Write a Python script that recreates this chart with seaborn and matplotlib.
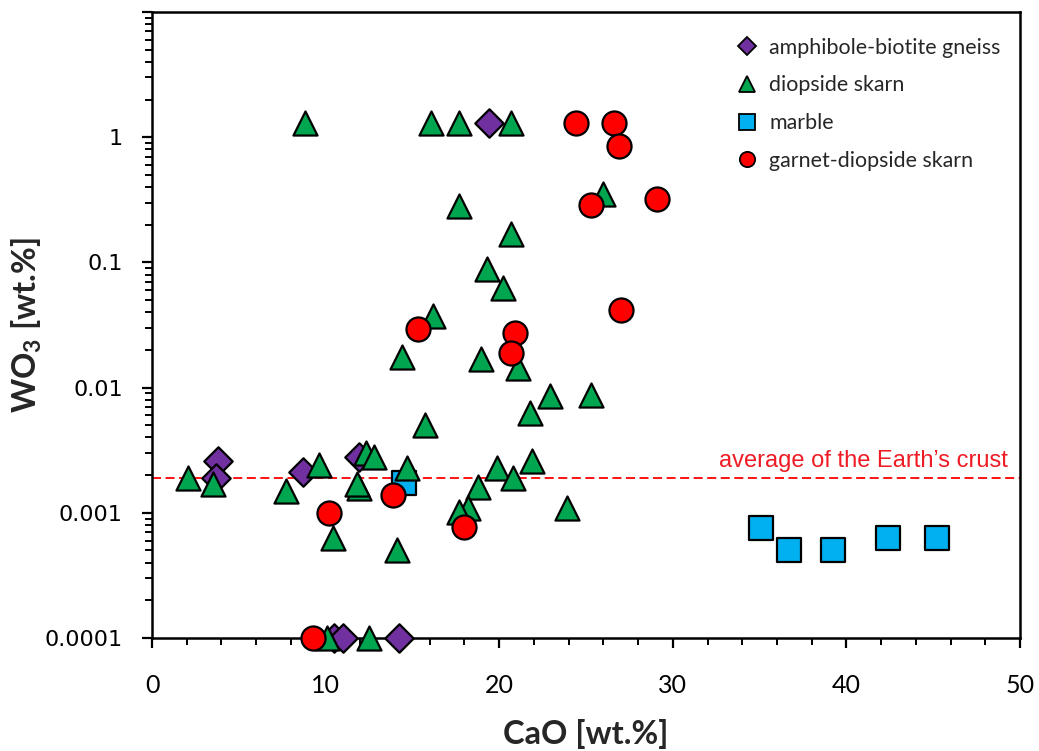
import math

import matplotlib
matplotlib.use("Agg")
import matplotlib.pyplot as plt
import matplotlib.ticker as mticker
import pandas as pd
import seaborn as sns

# CaO / WO3 pairs per rock type (wt.%)
gneiss_cao = [3.8, 3.7, 8.7, 11.9, 19.4, 10.5, 11.0, 14.2]
gneiss_wo3 = [0.0026, 0.0019, 0.0021, 0.0028, 1.29, 0.0001, 0.0001, 0.0001]

diopside_cao = [8.8, 16.1, 17.7, 20.7, 26.0, 17.7, 20.7, 19.3, 20.2, 16.2,
                14.4, 18.95, 21.1, 22.9, 25.3, 21.8, 15.7, 19.9, 20.8, 21.9,
                18.8, 18.2, 17.7, 23.9, 14.7, 2.1, 3.5, 7.7, 9.6, 12.3,
                12.8, 11.9, 11.8, 10.4, 14.1, 10.1, 12.5]
diopside_wo3 = [1.29, 1.29, 1.29, 1.29, 0.35, 0.28, 0.169, 0.089, 0.063, 0.0375,
                0.0177, 0.017, 0.0144, 0.0086, 0.0088, 0.0063, 0.005, 0.00226, 0.00188, 0.0026,
                0.0016, 0.0011, 0.00101, 0.0011, 0.00226, 0.00188, 0.00169, 0.0015, 0.0024, 0.003,
                0.0028, 0.00157, 0.0017, 0.00063, 0.0005, 0.0001, 0.0001]

marble_cao = [14.5, 35.1, 36.7, 39.2, 42.4, 45.2]
marble_wo3 = [0.00172, 0.00075, 0.0005, 0.0005, 0.00063, 0.00063]

garnet_cao = [24.4, 26.6, 26.9, 25.3, 29.1, 15.3, 20.9, 20.7, 27.0, 10.2,
              13.9, 9.3, 18.0]
garnet_wo3 = [1.29, 1.29, 0.85, 0.29, 0.32, 0.0295, 0.0274, 0.019, 0.042, 0.001,
              0.00138, 0.0001, 0.00077]

crust_avg = 0.0019

groups = ["amphibole-biotite gneiss", "diopside skarn", "marble", "garnet-diopside skarn"]
data = {
    "amphibole-biotite gneiss": (gneiss_cao, gneiss_wo3),
    "diopside skarn": (diopside_cao, diopside_wo3),
    "marble": (marble_cao, marble_wo3),
    "garnet-diopside skarn": (garnet_cao, garnet_wo3),
}
colors = {"amphibole-biotite gneiss": "#7030A0", "diopside skarn": "#00A550",
          "marble": "#00B0F0", "garnet-diopside skarn": "#FF0000"}
markers = {"amphibole-biotite gneiss": "D", "diopside skarn": "^",
           "marble": "s", "garnet-diopside skarn": "o"}
sizes = {"amphibole-biotite gneiss": 210, "diopside skarn": 300,
         "marble": 280, "garnet-diopside skarn": 300}
draw_order = ["marble", "amphibole-biotite gneiss", "diopside skarn", "garnet-diopside skarn"]

sns.set_theme(style="ticks")
plt.rcParams["font.family"] = ["Lato", "DejaVu Sans"]
plt.rcParams["mathtext.fontset"] = "custom"
plt.rcParams["mathtext.bf"] = "Lato:bold"
plt.rcParams["mathtext.rm"] = "Lato"

fig, ax = plt.subplots(figsize=(10.39, 7.51), dpi=100)
fig.subplots_adjust(left=0.1463, right=0.9817, top=0.984, bottom=0.1505)

handles = {}
for g in draw_order:
    cao, wo3 = data[g]
    df = pd.DataFrame({"CaO": cao, "WO3": wo3})
    sns.scatterplot(data=df, x="CaO", y="WO3", marker=markers[g], s=sizes[g],
                    color=colors[g], edgecolor="black", linewidth=1.6,
                    ax=ax, zorder=3, clip_on=False, legend=False)
    handles[g] = plt.Line2D([], [], ls="", marker=markers[g],
                            markersize=11 if markers[g] != "D" else 9,
                            markerfacecolor=colors[g], markeredgecolor="black",
                            markeredgewidth=1.3, label=g)

ax.axhline(crust_avg, color="#FF0000", ls=(0, (5, 2.5)), lw=1.3, zorder=2)
ax.text(49.3, 0.0023, "average of the Earth\u2019s crust", color="#EE1C25",
        ha="right", va="baseline", fontsize=17,
        family=["Liberation Sans", "DejaVu Sans"])


def wo3_label(v, pos):
    if v > 5:
        return ""
    if v >= 1:
        return f"{v:g}"
    return f"{v:.{-int(round(math.log10(v)))}f}"


ax.set_yscale("log")
ax.set_xlim(0, 50)
ax.set_ylim(0.0001, 10)
ax.xaxis.set_major_locator(mticker.MultipleLocator(10))
ax.xaxis.set_minor_locator(mticker.MultipleLocator(2))
ax.yaxis.set_major_locator(mticker.LogLocator(base=10, numticks=10))
ax.yaxis.set_minor_locator(mticker.LogLocator(base=10, subs=range(2, 10), numticks=20))
ax.yaxis.set_minor_formatter(mticker.NullFormatter())
ax.yaxis.set_major_formatter(mticker.FuncFormatter(wo3_label))

for side in ["top", "right", "left", "bottom"]:
    ax.spines[side].set_visible(True)
    ax.spines[side].set_linewidth(1.8)
    ax.spines[side].set_color("black")

ax.tick_params(axis="both", which="major", direction="out", length=7, width=1.6,
               colors="black")
ax.tick_params(axis="both", which="minor", direction="out", length=5, width=1.4,
               colors="black")
ax.tick_params(axis="x", which="major", labelsize=18, pad=19)
ax.tick_params(axis="y", which="major", labelsize=16, pad=14)
for lab in ax.get_yticklabels():
    lab.set_family(["DejaVu Sans"])

ax.set_xlabel("CaO [wt.%]", fontsize=23.5, fontweight="bold", labelpad=16)
ax.set_ylabel(r"WO$_\mathbf{3}$ [wt.%]", fontsize=23.5, fontweight="bold")
ax.yaxis.set_label_coords(-0.124, 0.5)

ax.legend(handles=[handles[g] for g in groups], loc="upper right",
          bbox_to_anchor=(1.0, 0.99), frameon=False, fontsize=15.4,
          handletextpad=0.05, labelspacing=0.83, borderaxespad=0.5)

fig.savefig("out.png", dpi=100, facecolor="white")
